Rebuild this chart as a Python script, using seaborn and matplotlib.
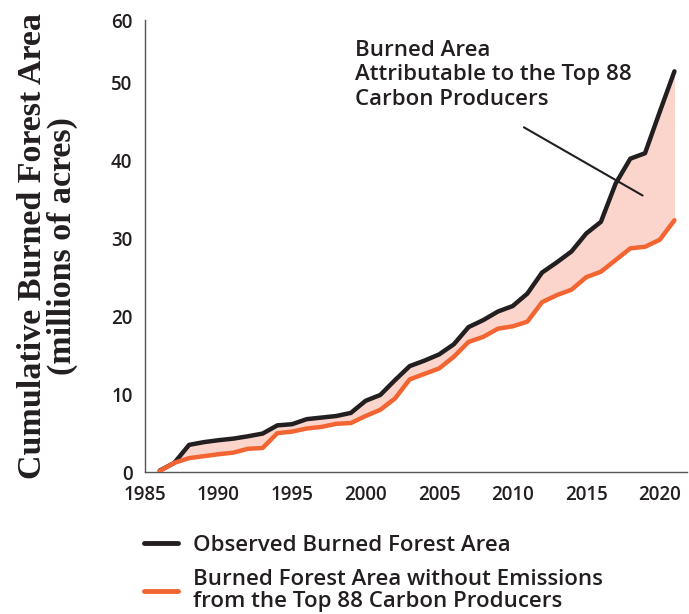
import pandas as pd
import seaborn as sns
import matplotlib.pyplot as plt

years = list(range(1986, 2022))

# cumulative burned forest area, millions of acres
observed = [0.2, 1.2, 3.5, 3.85, 4.1, 4.3, 4.6, 4.95, 6.0, 6.15,
            6.8, 7.0, 7.2, 7.6, 9.15, 9.9, 11.8, 13.6, 14.3, 15.1,
            16.4, 18.6, 19.5, 20.6, 21.3, 22.9, 25.6, 26.9, 28.3, 30.6,
            32.1, 37.0, 40.2, 40.9, 46.2, 51.4]
counterfactual = [0.15, 1.2, 1.8, 2.05, 2.3, 2.5, 3.0, 3.1, 5.0, 5.2,
                  5.6, 5.8, 6.2, 6.3, 7.2, 8.0, 9.45, 11.9, 12.6, 13.3,
                  14.8, 16.7, 17.35, 18.4, 18.7, 19.3, 21.8, 22.7, 23.4, 25.0,
                  25.7, 27.2, 28.7, 28.9, 29.8, 32.3]

labels = ["Observed Burned Forest Area",
          "Burned Forest Area without Emissions\nfrom the Top 88 Carbon Producers"]
y_ticks = [0, 10, 20, 30, 40, 50, 57.95]
y_ticklabels = ["0", "10", "20", "30", "40", "50", "60"]
x_ticks = [1985, 1990, 1995, 2000, 2005, 2010, 2015, 2020]

df = pd.DataFrame({
    "year": years * 2,
    "area": observed + counterfactual,
    "series": [labels[0]] * len(years) + [labels[1]] * len(years),
})

sns.set_style("white")
plt.rcParams["font.family"] = ["Open Sans", "DejaVu Sans"]

dark = "#231f20"
orange = "#f26532"
fill = "#fbd5cb"

fig = plt.figure(figsize=(6.89, 6.14), dpi=100)
ax = fig.add_axes([0.2104, 0.231, 0.7866, 0.736])

ax.fill_between(years, counterfactual, observed, color=fill, lw=0, zorder=1)
sns.lineplot(data=df, x="year", y="area", hue="series",
             palette={labels[0]: dark, labels[1]: orange},
             linewidth=3.2, ax=ax, legend=False, zorder=3)

ax.set_xlim(1985, 2021.85)
ax.set_ylim(0, 57.95)
ax.set_xticks(x_ticks)
ax.set_yticks(y_ticks)
ax.set_yticklabels(y_ticklabels)
ax.set_xlabel("")
ax.set_ylabel("Cumulative Burned Forest Area\n(millions of acres)",
              family=["Liberation Serif"], fontweight="bold", fontsize=24.5,
              color=dark, labelpad=24, linespacing=0.92)

for s in ["top", "right"]:
    ax.spines[s].set_visible(False)
for s in ["left", "bottom"]:
    ax.spines[s].set_color("#555555")
    ax.spines[s].set_linewidth(1.0)
ax.tick_params(axis="both", direction="out", length=5, width=1,
               color="#555555", labelsize=13.5, labelcolor=dark, pad=4)
for t in ax.get_xticklabels() + ax.get_yticklabels():
    t.set_fontweight("semibold")

ax.annotate("", xy=(2019.0, 35.3), xytext=(2010.6, 44.4),
            arrowprops=dict(arrowstyle="-", color=dark, lw=1.5), zorder=4)
ax.text(1999.3, 55.4, "Burned Area\nAttributable to the Top 88\nCarbon Producers",
        fontsize=16, color=dark, fontweight="semibold", va="top", ha="left",
        linespacing=1.2)

handles = [plt.Line2D([], [], color=dark, lw=3.5),
           plt.Line2D([], [], color=orange, lw=3.5)]
leg = fig.legend(handles, labels, loc="upper left", bbox_to_anchor=(0.18, 0.162),
                 frameon=False, fontsize=16, handlelength=1.55, handletextpad=0.65,
                 labelspacing=0.62, labelcolor=dark)
for t in leg.get_texts():
    t.set_fontweight("semibold")
    t.set_linespacing(1.05)

fig.savefig("out.png", dpi=100)
